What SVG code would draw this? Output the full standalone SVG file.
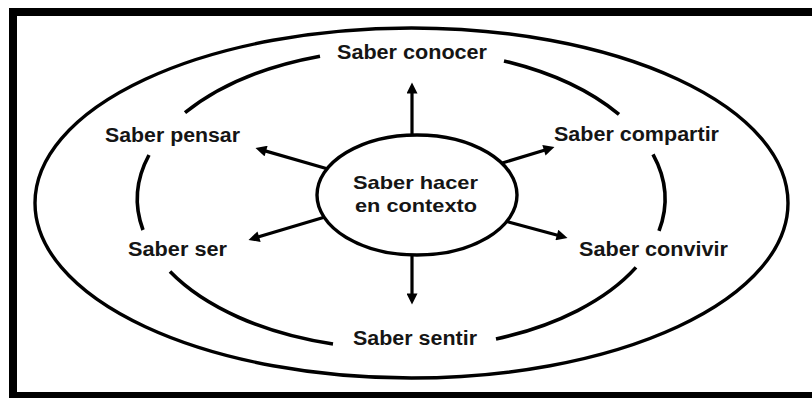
<svg xmlns="http://www.w3.org/2000/svg" width="812" height="398" viewBox="0 0 812 398">
  <style>
    .ring { fill: none; stroke: #000; stroke-width: 3.4; }
    .arc { fill: none; stroke: #000; stroke-width: 3.6; }
    .arrow { stroke: #000; stroke-width: 3.2; fill: none; marker-end: url(#head); }
    .lbl { font-family: "Liberation Sans", Arial, sans-serif; font-weight: bold; font-size: 19.5px; fill: #151515; }
    .ctr { font-size: 18.5px; }
  </style>
  <defs>
    <marker id="head" viewBox="0 0 10 10" refX="5" refY="5" markerWidth="12" markerHeight="11" markerUnits="userSpaceOnUse" orient="auto">
      <path d="M0,0 L10,5 L0,10 z" fill="#000"/>
    </marker>
  </defs>
  <rect width="812" height="398" fill="#fff"/>
  <g id="frame" fill="#000">
    <rect x="9" y="8" width="803" height="8"/>
    <rect x="9" y="8" width="8" height="390"/>
    <rect x="9" y="392" width="803" height="6"/>
  </g>
  <g id="outer-ring">
    <ellipse class="ring" cx="411.5" cy="203" rx="376.5" ry="175"/>
  </g>
  <g id="inner-ring">
    <path class="arc" d="M185,112.7 A264,150 0 0 1 320,56.2"/>
    <path class="arc" d="M504,60.9 A264,150 0 0 1 619,114.4"/>
    <path class="arc" d="M653,154.3 A264,150 0 0 1 659,230.8"/>
    <path class="arc" d="M636,267.4 A264,150 0 0 1 496,339"/>
    <path class="arc" d="M333,344 A264,150 0 0 1 170,271.6"/>
    <path class="arc" d="M143,230 A264,150 0 0 1 149,155"/>
  </g>
  <g id="connectors">
    <line class="arrow" x1="412" y1="140" x2="412" y2="88"/>
    <line class="arrow" x1="412" y1="250" x2="412" y2="299"/>
    <line class="arrow" x1="328" y1="169" x2="260.8" y2="149.6"/>
    <line class="arrow" x1="325" y1="217" x2="253.8" y2="238.3"/>
    <line class="arrow" x1="499" y1="164" x2="549.2" y2="148.7"/>
    <line class="arrow" x1="505" y1="221" x2="562.2" y2="236.5"/>
  </g>
  <g id="center">
    <ellipse cx="417" cy="195" rx="100" ry="60" fill="#fff" stroke="#000" stroke-width="3.4"/>
    <text class="lbl ctr" x="353" y="189" textLength="125" lengthAdjust="spacingAndGlyphs">Saber hacer</text>
    <text class="lbl ctr" x="355" y="212" textLength="122" lengthAdjust="spacingAndGlyphs">en contexto</text>
  </g>
  <g id="saber-conocer">
    <text class="lbl" x="337" y="59" textLength="150" lengthAdjust="spacingAndGlyphs">Saber conocer</text>
  </g>
  <g id="saber-pensar">
    <text class="lbl" x="105" y="142" textLength="135" lengthAdjust="spacingAndGlyphs">Saber pensar</text>
  </g>
  <g id="saber-compartir">
    <text class="lbl" x="554" y="141" textLength="165" lengthAdjust="spacingAndGlyphs">Saber compartir</text>
  </g>
  <g id="saber-ser">
    <text class="lbl" x="128" y="256" textLength="99" lengthAdjust="spacingAndGlyphs">Saber ser</text>
  </g>
  <g id="saber-convivir">
    <text class="lbl" x="579" y="256" textLength="149" lengthAdjust="spacingAndGlyphs">Saber convivir</text>
  </g>
  <g id="saber-sentir">
    <text class="lbl" x="353" y="345" textLength="124" lengthAdjust="spacingAndGlyphs">Saber sentir</text>
  </g>
</svg>
